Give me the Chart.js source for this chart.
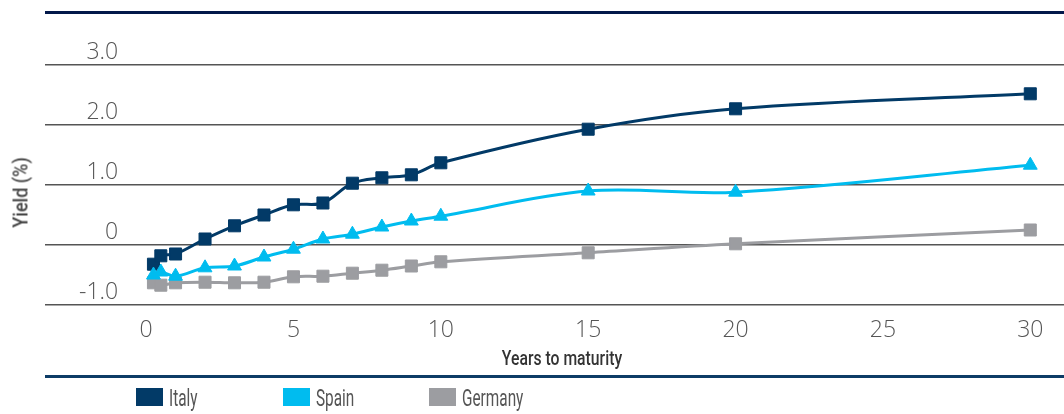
<!DOCTYPE html>
<html>
<head>
<meta charset="utf-8">
<script src="https://cdn.jsdelivr.net/npm/chart.js@4.4.1/dist/chart.umd.min.js"></script>
<style>
  html, body { margin: 0; padding: 0; background: #fff; overflow: hidden; width: 1064px; height: 414px; }
  #wrap { position: relative; width: 1084px; height: 414px; }
  #chart { position: absolute; left: 0; top: 0; }
  .rule { position: absolute; }
  .narrow { position: absolute; font-family: Roboto, "Noto Sans", sans-serif; white-space: nowrap; }
  .key { position: absolute; top: 388px; width: 27px; height: 18px; }
  .lbl { top: 386px; font-size: 24px; line-height: 24px; color: #555; transform: scaleX(0.64); transform-origin: left center; }
  #xTitle { left: 462px; top: 348px; width: 200px; text-align: center; font-size: 21px; line-height: 21px;
            font-weight: 500; color: #333; transform: scaleX(0.75); }
  #yTitle { left: -29px; top: 181.5px; width: 100px; text-align: center; font-size: 21px; line-height: 21px;
            font-weight: 500; color: #444; transform: rotate(-90deg) scaleX(0.86); }
</style>
</head>
<body>
<div id="wrap">
  <canvas id="chart" width="1084" height="414" style="width:1084px;height:414px"></canvas>
  <div class="rule" style="left:45px;top:11px;width:1039px;height:3px;background:#02184a"></div>
  <div class="rule" style="left:45px;top:375px;width:1039px;height:3px;background:#0d3c66"></div>
  <div class="narrow" id="yTitle">Yield (%)</div>
  <div class="narrow" id="xTitle">Years to maturity</div>
  <div id="legend"></div>
</div>
<script>
/* --------------- Data --------------------- */
const maturities = [0.25, 0.5, 1, 2, 3, 4, 5, 6, 7, 8, 9, 10, 15, 20, 30];
const italy   = [-0.32, -0.18, -0.15, 0.10, 0.32, 0.50, 0.67, 0.70, 1.03, 1.12, 1.17, 1.37, 1.93, 2.27, 2.52];
const spain   = [-0.50, -0.45, -0.52, -0.38, -0.35, -0.20, -0.07, 0.10, 0.18, 0.30, 0.40, 0.48, 0.90, 0.88, 1.33];
const germany = [-0.63, -0.67, -0.63, -0.62, -0.63, -0.62, -0.53, -0.52, -0.47, -0.42, -0.35, -0.28, -0.13, 0.02, 0.25];
const seriesNames = ["Italy", "Spain", "Germany"];
const xTicks = [0, 5, 10, 15, 20, 25, 30];
const yTicks = [-1, 0, 1, 2, 3];

/* --------------- Styles --------------------- */
const colors = ["#023a67", "#00bcef", "#9c9da1"];
const shapes = ["rect", "triangle", "rect"];
const tickFont = { family: "'Open Sans', Lato, sans-serif", size: 23, weight: "300" };

const toPoints = (vals) => vals.map((v, i) => ({ x: maturities[i], y: v }));
const series = [italy, spain, germany];

const datasets = series.map((vals, i) => ({
  label: seriesNames[i],
  data: toPoints(vals),
  borderColor: colors[i],
  backgroundColor: colors[i],
  borderWidth: 3,
  pointStyle: shapes[i],
  pointRadius: shapes[i] === "triangle" ? 8 : 8.5,
  pointBorderWidth: 1,
  tension: 0.35,
  order: [1, 0, 2][i],
}));

/* --------------- Chart --------------------- */
new Chart(document.getElementById("chart"), {
  type: "line",
  data: { datasets },
  options: {
    responsive: false,
    animation: false,
    layout: { padding: { top: 65, left: 0, right: 0, bottom: 49 } },
    plugins: { legend: { display: false }, tooltip: { enabled: false } },
    scales: {
      x: {
        type: "linear",
        min: -3.43,
        max: 31.5,
        afterBuildTicks: (s) => { s.ticks = xTicks.map((v) => ({ value: v })); },
        afterFit: (s) => { s.height = 60; },
        grid: { display: false, drawTicks: false },
        border: { display: false },
        ticks: { padding: 12, color: "#555", font: tickFont, callback: (v) => String(v) },
      },
      y: {
        min: -1,
        max: 3,
        afterBuildTicks: (s) => { s.ticks = yTicks.map((v) => ({ value: v })); },
        afterFit: (s) => { s.width = 45; },
        grid: { color: "#555", lineWidth: 1.5, drawTicks: false },
        border: { display: false },
        ticks: {
          mirror: true, crossAlign: "far", padding: 34, labelOffset: -13,
          color: "#555", font: tickFont,
          callback: (v) => (v === 0 ? "0" : v.toFixed(1)),
        },
      },
    },
  },
});

/* --------------- Legend --------------------- */
const legend = document.getElementById("legend");
const keyLefts = [136, 283, 429];
seriesNames.forEach((name, i) => {
  const key = document.createElement("div");
  key.className = "key";
  key.style.left = keyLefts[i] + "px";
  key.style.background = colors[i];
  legend.appendChild(key);
  const lbl = document.createElement("div");
  lbl.className = "narrow lbl";
  lbl.style.left = keyLefts[i] + 33 + "px";
  lbl.textContent = name;
  legend.appendChild(lbl);
});
</script>
</body>
</html>
